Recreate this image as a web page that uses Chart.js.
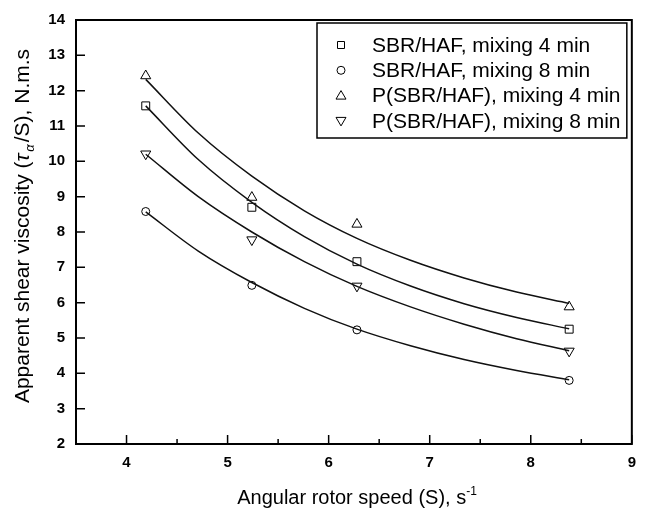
<!DOCTYPE html>
<html>
<head>
<meta charset="utf-8">
<script src="https://cdn.jsdelivr.net/npm/chart.js@4/dist/chart.umd.min.js"></script>
<style>
    body { margin: 0; background: #fff; }
    #wrap { width: 646px; height: 508px; }
</style>
</head>
<body>
<div id="wrap"><canvas id="chart" width="646" height="508"></canvas></div>
<script>
// measured points
const speeds = [4.19, 5.24, 6.28, 8.38];
const sbr4 = [11.57, 8.70, 7.16, 5.25];
const sbr8 = [8.58, 6.49, 5.23, 3.80];
const psbr4 = [12.42, 8.98, 8.22, 5.88];
const psbr8 = [10.21, 7.78, 6.47, 4.63];

// fitted curves
const fitX = [4.19, 4.71, 5.24, 5.76, 6.28, 6.81, 7.34, 7.86, 8.38];
const fitSbr4 = [11.57, 10.05, 8.84, 7.87, 7.09, 6.47, 5.97, 5.58, 5.26];
const fitSbr8 = [8.57, 7.46, 6.57, 5.84, 5.25, 4.78, 4.39, 4.08, 3.82];
const fitPsbr4 = [12.32, 10.80, 9.58, 8.60, 7.82, 7.20, 6.70, 6.30, 5.98];
const fitPsbr8 = [10.20, 9.00, 8.00, 7.16, 6.46, 5.88, 5.39, 4.98, 4.64];

const seriesLabels = [
    'SBR/HAF, mixing 4 min',
    'SBR/HAF, mixing 8 min',
    'P(SBR/HAF), mixing 4 min',
    'P(SBR/HAF), mixing 8 min'
];
const xTicks = [4, 5, 6, 7, 8, 9];
const xMinorTicks = [4.5, 5.5, 6.5, 7.5, 8.5];
const yTicks = [2, 3, 4, 5, 6, 7, 8, 9, 10, 11, 12, 13, 14];

const FONT = '"Liberation Sans", Arial, sans-serif';
const markers = [
    { style: 'rect', radius: 5.6, rotation: 0 },
    { style: 'circle', radius: 4, rotation: 0 },
    { style: 'triangle', radius: 5.8, rotation: 0 },
    { style: 'triangle', radius: 5.8, rotation: 180 }
];

function toPoints(xs, ys) {
    return xs.map((x, i) => ({ x, y: ys[i] }));
}

function pointSet(values, i) {
    return {
        label: seriesLabels[i],
        data: toPoints(speeds, values),
        showLine: false,
        pointStyle: markers[i].style,
        pointRadius: markers[i].radius,
        pointRotation: markers[i].rotation,
        pointBorderColor: '#000',
        pointBackgroundColor: 'rgba(0,0,0,0)',
        pointBorderWidth: 1
    };
}

function curveSet(values) {
    return {
        data: toPoints(fitX, values),
        showLine: true,
        borderColor: '#111',
        borderWidth: 1.5,
        pointRadius: 0,
        cubicInterpolationMode: 'monotone'
    };
}

function drawMarker(ctx, kind, x, y) {
    ctx.beginPath();
    if (kind === 0) {
        ctx.rect(x - 3.5, y - 3.5, 7, 7);
    } else if (kind === 1) {
        ctx.arc(x, y, 4, 0, Math.PI * 2);
    } else if (kind === 2) {
        ctx.moveTo(x, y - 5);
        ctx.lineTo(x + 5, y + 3.5);
        ctx.lineTo(x - 5, y + 3.5);
        ctx.closePath();
    } else {
        ctx.moveTo(x, y + 5);
        ctx.lineTo(x + 5, y - 3.5);
        ctx.lineTo(x - 5, y - 3.5);
        ctx.closePath();
    }
    ctx.stroke();
}

function drawParts(ctx, parts, cx, cy) {
    let total = 0;
    parts.forEach((p) => {
        ctx.font = p.font;
        p.w = ctx.measureText(p.text).width + (p.gap || 0);
        total += p.w;
    });
    let x = cx - total / 2;
    parts.forEach((p) => {
        ctx.font = p.font;
        ctx.fillText(p.text, x, cy + (p.dy || 0));
        x += p.w;
    });
}

const framePlugin = {
    id: 'frame',
    afterDraw(chart) {
        const { ctx, chartArea: a } = chart;
        const xs = chart.scales.x;
        const ys = chart.scales.y;
        ctx.save();
        ctx.strokeStyle = '#000';
        ctx.lineWidth = 2;
        ctx.strokeRect(a.left, a.top, a.right - a.left, a.bottom - a.top);

        ctx.lineWidth = 1.5;
        ctx.beginPath();
        xTicks.forEach((v) => {
            const px = xs.getPixelForValue(v);
            ctx.moveTo(px, a.bottom);
            ctx.lineTo(px, a.bottom - 9);
        });
        xMinorTicks.forEach((v) => {
            const px = xs.getPixelForValue(v);
            ctx.moveTo(px, a.bottom);
            ctx.lineTo(px, a.bottom - 5);
        });
        yTicks.forEach((v) => {
            const py = ys.getPixelForValue(v);
            ctx.moveTo(a.left, py);
            ctx.lineTo(a.left + 9, py);
        });
        ctx.stroke();

        // axis titles
        ctx.fillStyle = '#000';
        ctx.textBaseline = 'alphabetic';
        ctx.textAlign = 'left';
        drawParts(ctx, [
            { text: 'Angular rotor speed (S), s', font: '20px ' + FONT },
            { text: '-1', font: '12px ' + FONT, dy: -9 }
        ], 357, 504);

        ctx.save();
        ctx.translate(29, 226);
        ctx.rotate(-Math.PI / 2);
        drawParts(ctx, [
            { text: 'Apparent shear viscosity (', font: '21px ' + FONT },
            { text: 'τ', font: 'italic 21px ' + FONT, gap: 2 },
            { text: 'α', font: 'italic 13px ' + FONT, dy: 5, gap: 2 },
            { text: '/S), N.m.s', font: '21px ' + FONT }
        ], 0, 0);
        ctx.restore();

        // legend
        const boxLeft = 317, boxTop = 23, boxRight = a.right - 5, boxBottom = 138;
        ctx.fillStyle = '#fff';
        ctx.fillRect(boxLeft, boxTop, boxRight - boxLeft, boxBottom - boxTop);
        ctx.lineWidth = 1.5;
        ctx.strokeRect(boxLeft, boxTop, boxRight - boxLeft, boxBottom - boxTop);
        ctx.lineWidth = 1;
        ctx.fillStyle = '#000';
        ctx.font = '21px ' + FONT;
        ctx.textBaseline = 'middle';
        seriesLabels.forEach((label, i) => {
            const rowY = boxTop + 22 + i * 25.3;
            drawMarker(ctx, i, boxLeft + 24, rowY);
            ctx.fillText(label, boxLeft + 55, rowY + 1);
        });
        ctx.restore();
    }
};

const ctx = document.getElementById('chart').getContext('2d');
new Chart(ctx, {
    type: 'scatter',
    data: {
        datasets: [
            curveSet(fitSbr4),
            curveSet(fitSbr8),
            curveSet(fitPsbr4),
            curveSet(fitPsbr8),
            pointSet(sbr4, 0),
            pointSet(sbr8, 1),
            pointSet(psbr4, 2),
            pointSet(psbr8, 3)
        ]
    },
    options: {
        responsive: false,
        animation: false,
        layout: { padding: { left: 0, top: 19, right: 6, bottom: 0 } },
        plugins: {
            legend: { display: false },
            tooltip: { enabled: false }
        },
        scales: {
            x: {
                type: 'linear',
                min: 3.5,
                max: 9,
                grid: { display: false, drawTicks: false },
                border: { display: false },
                afterBuildTicks: (scale) => { scale.ticks = xTicks.map((v) => ({ value: v })); },
                afterFit: (scale) => { scale.height = 64; },
                ticks: {
                    color: '#000',
                    padding: 10,
                    maxRotation: 0,
                    font: { family: FONT, size: 15, weight: 'bold' }
                }
            },
            y: {
                type: 'linear',
                min: 2,
                max: 14,
                grid: { display: false, drawTicks: false },
                border: { display: false },
                afterBuildTicks: (scale) => { scale.ticks = yTicks.map((v) => ({ value: v })); },
                afterFit: (scale) => { scale.width = 76; },
                ticks: {
                    color: '#000',
                    padding: 11,
                    font: { family: FONT, size: 15, weight: 'bold' }
                }
            }
        }
    },
    plugins: [framePlugin]
});
</script>
</body>
</html>
